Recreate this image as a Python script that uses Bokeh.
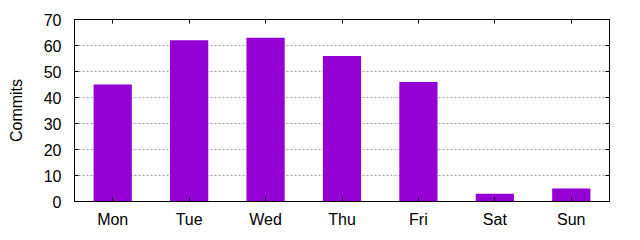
from bokeh.plotting import figure
from bokeh.models import FactorRange, Range1d, LinearAxis, CategoricalAxis, FixedTicker, ColumnDataSource, CustomJSTickFormatter
from bokeh.embed import file_html
from bokeh.resources import INLINE

days = ["Mon", "Tue", "Wed", "Thu", "Fri", "Sat", "Sun"]
commits = [45, 62, 63, 56, 46, 3, 5]
y_ticks = [0, 10, 20, 30, 40, 50, 60, 70]

FONT = "Liberation Sans"
FS = "16px"

src = ColumnDataSource(data=dict(day=days, commits=commits))

p = figure(width=640, height=240, x_range=FactorRange(*days, range_padding=0),
           y_range=Range1d(0, 70), output_backend="svg", toolbar_location=None,
           min_border_left=74, min_border_right=31, min_border_top=19, min_border_bottom=39)

p.vbar(x="day", top="commits", width=0.5, source=src, color="#9400D3", line_color=None)

p.xgrid.visible = False
p.ygrid.ticker = FixedTicker(ticks=[10, 20, 30, 40, 50, 60])
p.ygrid.grid_line_color = "#a0a0a0"
p.ygrid.grid_line_dash = "2 2"
p.ygrid.grid_line_width = 1

p.outline_line_color = "black"
p.outline_line_width = 1
p.outline_line_alpha = 1

for ax in p.yaxis:
    ax.ticker = FixedTicker(ticks=y_ticks)
    ax.axis_label = "Commits"
    ax.axis_label_text_font = FONT
    ax.axis_label_text_font_size = FS
    ax.axis_label_text_font_style = "normal"
    ax.axis_label_text_color = "black"
    ax.axis_label_standoff = 16
    ax.major_label_text_font = FONT
    ax.major_label_text_font_size = FS
    ax.major_label_text_color = "black"
    ax.major_tick_in = 4
    ax.major_tick_out = 0
    ax.minor_tick_line_color = None
    ax.major_label_standoff = 13
    ax.axis_line_color = "black"

for ax in p.xaxis:
    ax.major_label_text_font = FONT
    ax.major_label_text_font_size = FS
    ax.major_label_text_color = "black"
    ax.major_tick_in = 4
    ax.major_tick_out = 0
    ax.major_label_standoff = 9
    ax.axis_line_color = "black"

blank = CustomJSTickFormatter(code="return ''")
ra = LinearAxis(ticker=FixedTicker(ticks=y_ticks), formatter=blank,
                major_tick_in=4, major_tick_out=0, minor_tick_line_color=None,
                major_label_standoff=0, axis_line_color="black")
p.add_layout(ra, "right")
ta = CategoricalAxis(formatter=CustomJSTickFormatter(code="return ''"), major_tick_in=4, major_tick_out=0,
                     major_label_standoff=0, axis_line_color="black")
p.add_layout(ta, "above")

open("out.html", "w").write(file_html(p, INLINE))
